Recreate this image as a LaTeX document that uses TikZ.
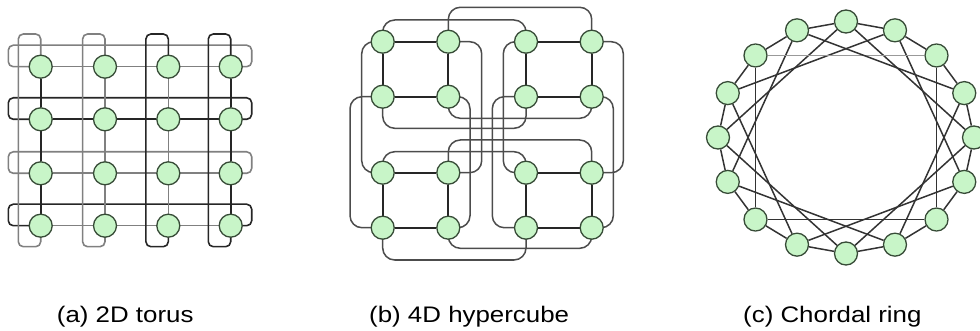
\documentclass[tikz,border=0pt]{standalone}
\usepackage{fontspec}
\setmainfont{Liberation Sans}
\usetikzlibrary{backgrounds,calc}
\definecolor{nfill}{RGB}{200,245,200}
\definecolor{ndraw}{RGB}{55,75,55}
\begin{document}
\begin{tikzpicture}[x=1pt,y=-1pt,
  vtx/.style={circle,draw=ndraw,fill=nfill,line width=1.3pt,minimum size=23pt,inner sep=0pt},
  dk/.style={draw=black!85,line width=1.6pt},
  lt/.style={draw=black!50,line width=1.6pt},
  route/.style={draw=black!70,line width=1.5pt,rounded corners=12pt},
  chord/.style={draw=black!80,line width=1.5pt},
  captext/.style={font=\fontsize{22.5}{24}\selectfont,anchor=base west,inner sep=0pt}]
\useasboundingbox (0,0) rectangle (980,331);

% ---------- (a) 2D torus ----------
\foreach \r/\y in {1/66.7,2/119.3,3/173.3,4/225.7}
  \foreach \c/\x in {1/40.7,2/105,3/168.3,4/230.7}
    \node[vtx] (t\r\c) at (\x,\y) {};

\begin{scope}[on background layer]
  \foreach \r/\s in {1/lt,2/dk,3/lt,4/dk}
    \draw[\s,rounded corners=5pt] (t\r4.center) -- ++(21,0) -- ++(0,-21.5) -- ++(-243.4,0) -- ++(0,21.5) -- (t\r1.center);
  \foreach \r/\s in {1/lt,2/dk,3/lt,4/lt}
    \draw[\s] (t\r1) -- (t\r2) -- (t\r3) -- (t\r4);
  \foreach \c/\s in {1/lt,2/lt,3/dk,4/dk}
    \draw[\s,rounded corners=5pt] (t1\c.center) -- ++(0,-32.7) -- ++(-22.4,0) -- ++(0,212.7) -- ++(22.4,0) -- (t4\c.center);
  \foreach \c/\s in {1/dk,2/lt,3/lt,4/dk}
    \draw[\s] (t1\c) -- (t2\c) -- (t3\c) -- (t4\c);
\end{scope}

% ---------- (b) 4D hypercube ----------
\foreach \n/\x/\y in {a1/382.7/41.7, a2/448.3/41.7, a3/382.7/96.7, a4/448.3/96.7,
                      b1/526/41.7,   b2/591.7/41.7, b3/526/96.7,   b4/591.7/96.7,
                      c1/382.7/172.7,c2/448.3/172.7,c3/382.7/227.7,c4/448.3/227.7,
                      d1/526/172.7,  d2/591.7/172.7,d3/526/227.7,  d4/591.7/227.7}
  \node[vtx] (\n) at (\x,\y) {};

\begin{scope}[on background layer]
  \foreach \q in {a,b,c,d}
    \draw[dk,line width=1.8pt] (\q1) -- (\q2) -- (\q4) -- (\q3) -- (\q1);
  % horizontal links
  \foreach \p/\q/\yy in {a1/b1/20, a2/b2/7.3, a3/b3/128.3, a4/b4/118.3,
                         c1/d1/151.7, c2/d2/140, c3/d3/260, c4/d4/248.3}
    \draw[route] (\p.center) -- (\p |- 0,\yy) -- (\q |- 0,\yy) -- (\q.center);
  % vertical links
  \foreach \p/\q/\xx in {a1/c1/361.7, a3/c3/350, a2/c2/481.7, a4/c4/470,
                         b1/d1/503.3, b3/d3/492.3, b2/d2/623.3, b4/d4/613.3}
    \draw[route] (\p.center) -- (\p -| \xx,0) -- (\q -| \xx,0) -- (\q.center);
\end{scope}

% ---------- (c) Chordal ring ----------
\foreach \k in {0,...,15}
  \node[vtx] (r\k) at ({846+128*sin(22.5*\k)},{137.5-116*cos(22.5*\k)}) {};

\begin{scope}[on background layer]
  \foreach \k in {0,...,15}{
    \pgfmathtruncatemacro{\nx}{mod(\k+1,16)}
    \pgfmathtruncatemacro{\ch}{mod(\k+4,16)}
    \draw[chord] (r\k) -- (r\nx);
    \ifnum\k=14
      \draw[chord,draw=black!40] (r\k) -- (r\ch);
    \else
      \draw[chord] (r\k) -- (r\ch);
    \fi
  }
\end{scope}

% ---------- captions ----------
\node[captext] (la) at (56.7,322) {\scalebox{1.15}[1]{(a) 2D torus}};
\node[captext] (lb) at (369,322) {\scalebox{1.15}[1]{(b) 4D hypercube}};
\node[captext] (lc) at (743,322) {\scalebox{1.15}[1]{(c) Chordal ring}};
\end{tikzpicture}
\end{document}
